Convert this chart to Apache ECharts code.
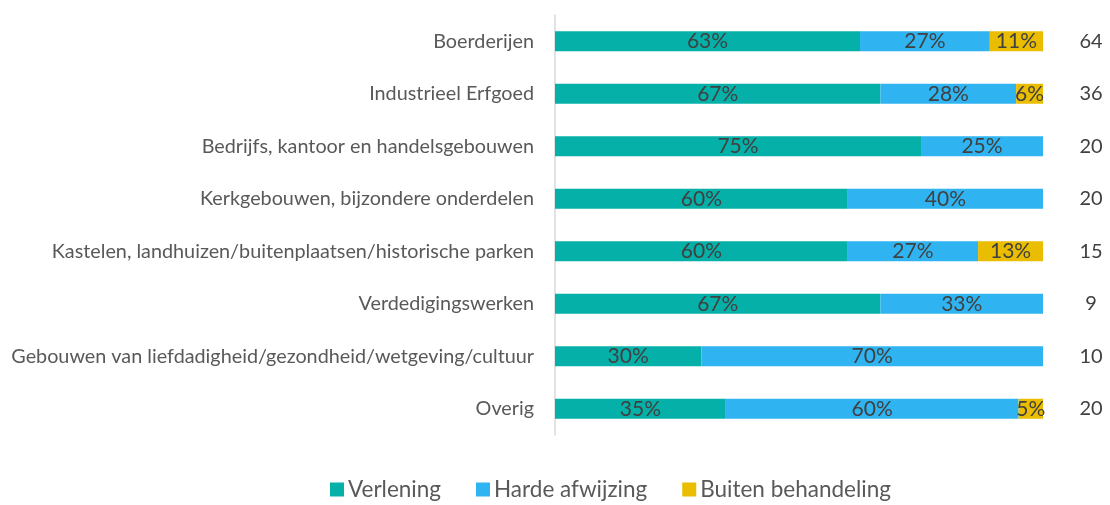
<!DOCTYPE html>
<html><head><meta charset="utf-8">
<script src="https://cdn.jsdelivr.net/npm/echarts@6/dist/echarts.min.js"></script>
<style>html,body{margin:0;padding:0;background:#fff}#c{width:1110px;height:505px}</style>
</head><body><div id="c"></div>
<script>
const categories = ["Boerderijen","Industrieel Erfgoed","Bedrijfs, kantoor en handelsgebouwen","Kerkgebouwen, bijzondere onderdelen","Kastelen, landhuizen/buitenplaatsen/historische parken","Verdedigingswerken","Gebouwen van liefdadigheid/gezondheid/wetgeving/cultuur","Overig"];
const totals = [64, 36, 20, 20, 15, 9, 10, 20];
const verlening = [62.5, 66.7, 75, 60, 60, 66.7, 30, 35];
const hardeAfwijzing = [26.6, 27.8, 25, 40, 26.7, 33.3, 70, 60];
const buitenBehandeling = [10.9, 5.5, 0, 0, 13.3, 0, 0, 5];

const FONT = 'Lato';
const chart = echarts.init(document.getElementById('c'));
const lbl = {show: true, position: 'inside', color: '#404040', fontFamily: FONT, fontSize: 21,
  formatter: p => p.value > 0 ? Math.round(p.value) + '%' : ''};
function s(name, data, color) {
  return {name, type: 'bar', stack: 'a', data, barWidth: 20, itemStyle: {color}, label: lbl, emphasis: {disabled: true}};
}
chart.setOption({
  animation: false,
  grid: {left: 555, right: 67, top: 15, bottom: 70},
  xAxis: {type: 'value', min: 0, max: 100, show: false},
  yAxis: [
    {type: 'category', data: categories, inverse: true,
      axisLine: {show: true, lineStyle: {color: '#d9d9d9', width: 1.5}}, axisTick: {show: false},
      axisLabel: {color: '#595959', fontFamily: FONT, fontSize: 19.8, margin: 21}},
    {type: 'category', data: totals.map(String), inverse: true, position: 'right',
      axisLine: {show: false}, axisTick: {show: false},
      axisLabel: {color: '#404040', fontFamily: FONT, fontSize: 20, margin: 48, align: 'center'}}
  ],
  legend: {top: 478, left: 330, padding: 0, itemWidth: 14, itemHeight: 14, itemGap: 35, icon: 'rect',
    textStyle: {color: '#595959', fontFamily: FONT, fontSize: 22.5, padding: [0, 0, 0, -1]}},
  series: [
    s('Verlening', verlening, '#05b0a8'),
    s('Harde afwijzing', hardeAfwijzing, '#2fb4f1'),
    s('Buiten behandeling', buitenBehandeling, '#ebbd00')
  ]
});
</script></body></html>
